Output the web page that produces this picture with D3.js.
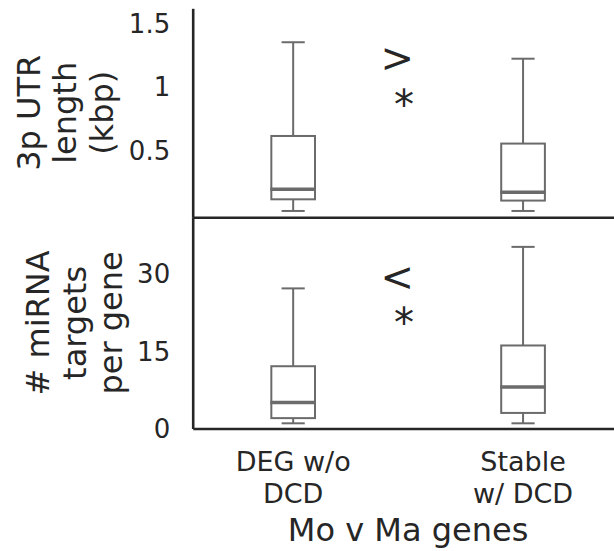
<!DOCTYPE html>
<html>
<head>
<meta charset="utf-8">
<script src="https://cdn.jsdelivr.net/npm/d3@7"></script>
<style>
  html, body { margin: 0; padding: 0; background: #fff; }
  svg { display: block; font-family: "DejaVu Sans", sans-serif; }
</style>
</head>
<body>
<svg id="chart" width="614" height="551"></svg>
<script>
// Gene groups compared on the x axis
const categories = ["DEG w/o\nDCD", "Stable\nw/ DCD"];
const xTitle = "Mo v Ma genes";

// 3' UTR length (kbp): whisker low, Q1, median, Q3, whisker high
const utrLow    = [0.018, 0.018];
const utrQ1     = [0.11, 0.10];
const utrMedian = [0.19, 0.166];
const utrQ3     = [0.61, 0.55];
const utrHigh   = [1.35, 1.22];
const utrTicks  = [0.5, 1, 1.5];
const utrTickLabels = ["0.5", "1", "1.5"];

// miRNA targets per gene: whisker low, Q1, median, Q3, whisker high
const mirLow    = [1, 1];
const mirQ1     = [2, 3];
const mirMedian = [5, 8];
const mirQ3     = [12, 16];
const mirHigh   = [27, 35];
const mirTicks  = [0, 15, 30];
const mirTickLabels = ["0", "15", "30"];

// Significance marks between the two groups
const utrMark = [">", "*"];
const mirMark = ["<", "*"];

const svg = d3.select("#chart");
const ink = "#262626";
const boxInk = "#6b6b6b";

const x = d3.scaleLinear().domain([-0.437, 1.5]).range([192.7, 638]);

const panels = [
  {
    top: 8.3, bottom: 217.3,
    domain: [-0.032, 1.618],
    low: utrLow, q1: utrQ1, med: utrMedian, q3: utrQ3, high: utrHigh,
    ticks: utrTicks, tickLabels: utrTickLabels,
    title: ["3p UTR", "length", "(kbp)"], titleBase: 39.5,
    mark: utrMark, markBase: 72
  },
  {
    top: 217.3, bottom: 428.5,
    domain: [0, 40.7],
    low: mirLow, q1: mirQ1, med: mirMedian, q3: mirQ3, high: mirHigh,
    ticks: mirTicks, tickLabels: mirTickLabels,
    title: ["# miRNA", "targets", "per gene"], titleBase: 49,
    mark: mirMark, markBase: 290.5
  }
];

const boxW = x(0.19) - x(0);
const capW = boxW * 0.53;

panels.forEach(p => {
  const y = d3.scaleLinear().domain(p.domain).range([p.bottom, p.top]);
  const g = svg.append("g");

  // Left spine with tick labels, no tick marks
  const yAxis = d3.axisLeft(y)
    .tickValues(p.ticks)
    .tickFormat((d, i) => p.tickLabels[i])
    .tickSize(0).tickSizeOuter(0).tickPadding(22.5);
  const ya = g.append("g").attr("transform", `translate(${x.range()[0]},0)`).call(yAxis);
  ya.select(".domain").attr("stroke", ink).attr("stroke-width", 2.6);
  ya.selectAll(".tick text")
    .attr("fill", ink).attr("font-size", 26)
    .attr("font-family", "DejaVu Sans").attr("dy", "0.36em");

  // Bottom spine
  const xa = g.append("g").attr("transform", `translate(0,${p.bottom})`)
    .call(d3.axisBottom(x).tickValues([]).tickSize(0).tickSizeOuter(0));
  xa.select(".domain").attr("stroke", ink).attr("stroke-width", 2.6);

  // Boxes with whiskers and caps
  const bx = g.append("g").attr("fill", "none").attr("stroke", boxInk);
  d3.range(categories.length).forEach(i => {
    const cx = x(i);
    bx.append("line").attr("x1", cx).attr("x2", cx)
      .attr("y1", y(p.q3[i])).attr("y2", y(p.high[i])).attr("stroke-width", 2);
    bx.append("line").attr("x1", cx).attr("x2", cx)
      .attr("y1", y(p.q1[i])).attr("y2", y(p.low[i])).attr("stroke-width", 2);
    bx.append("line").attr("x1", cx - capW / 2).attr("x2", cx + capW / 2)
      .attr("y1", y(p.high[i])).attr("y2", y(p.high[i])).attr("stroke-width", 2);
    bx.append("line").attr("x1", cx - capW / 2).attr("x2", cx + capW / 2)
      .attr("y1", y(p.low[i])).attr("y2", y(p.low[i])).attr("stroke-width", 2);
    bx.append("rect").attr("x", cx - boxW / 2).attr("width", boxW)
      .attr("y", y(p.q3[i])).attr("height", y(p.q1[i]) - y(p.q3[i]))
      .attr("fill", "#fff").attr("stroke-width", 2);
    bx.append("line").attr("x1", cx - boxW / 2 - 1).attr("x2", cx + boxW / 2 + 1)
      .attr("y1", y(p.med[i])).attr("y2", y(p.med[i])).attr("stroke-width", 3.6);
  });

  // Rotated multi-line axis title
  const cy = (p.top + p.bottom) / 2;
  const t = g.append("text")
    .attr("transform", `translate(0,${cy}) rotate(-90)`)
    .attr("text-anchor", "middle").attr("fill", ink).attr("font-size", 32);
  p.title.forEach((line, k) => {
    t.append("tspan").attr("x", 0).attr("y", p.titleBase + k * 36.5).text(line);
  });

  // Significance mark, right-aligned two-line text
  const m = g.append("text").attr("text-anchor", "end")
    .attr("fill", ink).attr("font-size", 40);
  p.mark.forEach((s, k) => {
    m.append("tspan").attr("x", 414).attr("y", p.markBase + k * 46.5).text(s);
  });
});

// Category labels and x title
const catG = svg.append("g").attr("fill", ink).attr("font-size", 27).attr("text-anchor", "middle");
categories.forEach((c, i) => {
  const tx = catG.append("text");
  c.split("\n").forEach((line, k) => {
    tx.append("tspan").attr("x", x(i)).attr("y", 470.7 + k * 32.6).text(line);
  });
});
svg.append("text").attr("x", x(0.5)).attr("y", 541)
  .attr("text-anchor", "middle").attr("fill", ink).attr("font-size", 32)
  .text(xTitle);
</script>
</body>
</html>
